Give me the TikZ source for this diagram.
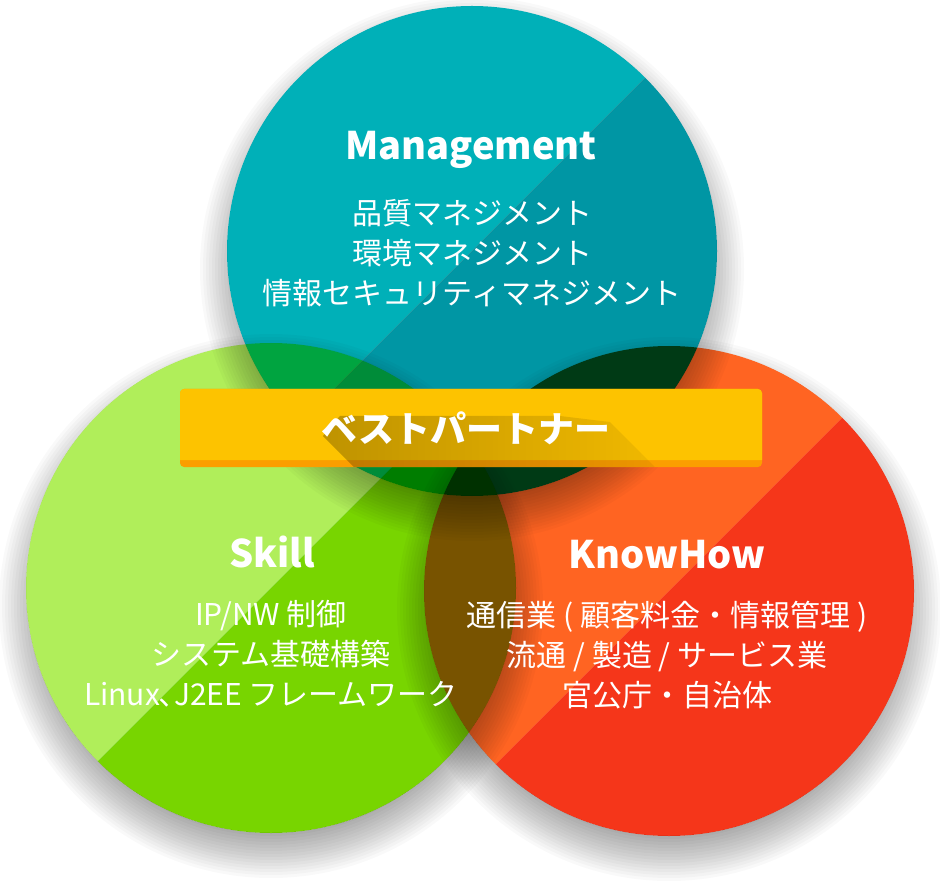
\documentclass[tikz,border=0pt]{standalone}
\usepackage{fontspec}
\usetikzlibrary{fadings}
\setmainfont{Noto Sans CJK JP}
\definecolor{tealL}{HTML}{00B0B8}
\definecolor{tealD}{HTML}{0096A4}
\definecolor{greenL}{HTML}{B0EE5A}
\definecolor{greenD}{HTML}{78D500}
\definecolor{redL}{HTML}{FF6422}
\definecolor{redD}{HTML}{F5361A}
\definecolor{bandY}{HTML}{FDC300}
\definecolor{bandO}{HTML}{FB9E00}
\tikzfading[name=shfade, left color=transparent!5, right color=transparent!80]
\begin{document}
\begin{tikzpicture}[x=1pt,y=-1pt,
  titletext/.style={text=white, font=\fontsize{38}{44}\selectfont\bfseries, inner sep=0pt, anchor=base},
  bodytext/.style={text=white, font=\fontsize{30}{40}\selectfont, inner sep=0pt, anchor=base},
  bandtext/.style={font=\fontsize{36}{40}\selectfont\bfseries, inner sep=0pt}]
\useasboundingbox (0,0) rectangle (940,882);
\fill[white] (0,0) rectangle (940,882);
% soft shadows (outside each own circle)
\foreach \cx/\cy in {472/251, 271/588, 669/591}{
  \begin{scope}[even odd rule]
    \clip (-10,-10) rectangle (950,892) (\cx,\cy) circle[radius=245pt];
    \foreach \k in {0,...,19}
      \fill[black, opacity=0.025] (\cx,\cy+18) circle[radius={(215+3*\k)*1pt}];
  \end{scope}
}
% circles, multiplied
\begin{scope}[blend mode=multiply]
  \foreach \cx/\cy/\cl/\cd in {472/251/tealL/tealD, 271/588/greenL/greenD, 669/591/redL/redD}{
    \begin{scope}
      \clip (\cx,\cy) circle[radius=245pt];
      \fill[\cl] (\cx-300,\cy+300) -- (\cx+300,\cy-300) -- (\cx-300,\cy-300) -- cycle;
      \fill[\cd] (\cx-300,\cy+300) -- (\cx+300,\cy-300) -- (\cx+300,\cy+300) -- cycle;
    \end{scope}
  }
\end{scope}
% banner
\fill[bandO, rounded corners=4pt] (180,389) rectangle (762,467);
\fill[bandY] (180,460) [rounded corners=4pt] -- (180,389) -- (762,389) [sharp corners] -- (762,460) -- cycle;
\begin{scope}[rounded corners=4pt]
  \clip (180,389) rectangle (762,467);
  \fill[black, opacity=0.26, path fading=shfade, sharp corners]
    (323,436) -- (340,416) -- (560,416) -- (610,422) -- (655,467) -- (354,467) -- cycle;
\end{scope}
\node[bandtext, text=white] (bp) at (466,428) {ベストパートナー};
% titles
\node[titletext] (mg) at (471,160) {Management};
\node[titletext] (sk) at (272,567) {Skill};
\node[titletext] (kh) at (667,568) {KnowHow};
% body lines
\node[bodytext] (m1) at (472,225) {品質マネジメント};
\node[bodytext] (m2) at (472,265) {環境マネジメント};
\node[bodytext] (m3) at (472,305) {情報セキュリティマネジメント};
\node[bodytext] (s1) at (271,625) {IP/NW 制御};
\node[bodytext] (s2) at (271,665) {システム基礎構築};
\node[bodytext] (s3) at (271,705) {Linux\kern-2pt、\kern-14pt J2EE フレームワーク};
\node[bodytext] (k1) at (667,626) {通信業 ( 顧客料金・情報管理 )};
\node[bodytext] (k2) at (667,666) {流通 / 製造 / サービス業};
\node[bodytext] (k3) at (667,706) {官公庁・自治体};
\end{tikzpicture}
\end{document}
